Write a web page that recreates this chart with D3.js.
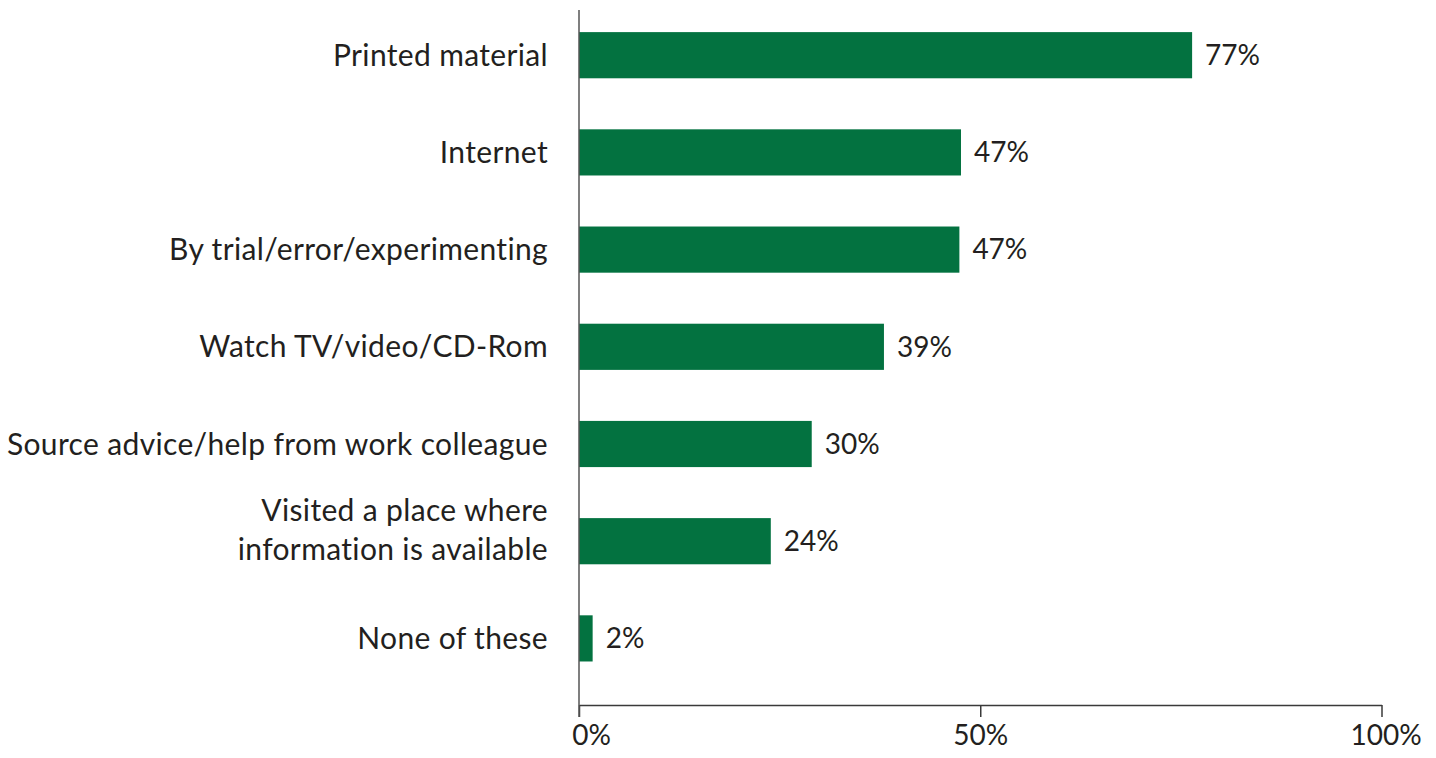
<!DOCTYPE html>
<html><head><meta charset="utf-8">
<script src="https://cdn.jsdelivr.net/npm/d3@7"></script>
<style>
html,body{margin:0;padding:0;background:#fff;}
text{font-family:Lato, "Open Sans", sans-serif;fill:#231f20;}
</style></head>
<body>
<svg id="chart" width="1436" height="758"></svg>
<script>
const categories = [
  ["Printed material"],
  ["Internet"],
  ["By trial/error/experimenting"],
  ["Watch TV/video/CD-Rom"],
  ["Source advice/help from work colleague"],
  ["Visited a place where", "information is available"],
  ["None of these"]
];
const values = [76.4, 47.6, 47.4, 38.0, 29.0, 23.9, 1.7];
const valueLabels = ["77%", "47%", "47%", "39%", "30%", "24%", "2%"];
const tickValues = [0, 50, 100];
const tickLabels = ["0%", "50%", "100%"];

const svg = d3.select("#chart");
const x0 = 579, x1 = 1381.5, axisY = 705;
const fs = 28;

const x = d3.scaleLinear().domain([0, 100]).range([x0, x1]);
const y = d3.scaleBand().domain(d3.range(categories.length))
  .range([6.6, 687]).paddingInner(0.525).paddingOuter(0.2625);

// bars
svg.append("g").selectAll("rect").data(values).join("rect")
  .attr("x", x(0)).attr("y", (d, i) => y(i))
  .attr("width", d => x(d) - x(0)).attr("height", y.bandwidth())
  .attr("fill", "#037240");

// value labels
svg.append("g").selectAll("text").data(values).join("text")
  .attr("x", d => x(d) + 13)
  .attr("y", (d, i) => y(i) + y.bandwidth() / 2)
  .attr("dy", "0.35em")
  .style("font-size", fs + "px")
  .text((d, i) => valueLabels[i]);

// category labels
const cl = svg.append("g").selectAll("text").data(categories).join("text")
  .attr("text-anchor", "end")
  .style("font-size", "30px")
  .style("letter-spacing", "0.35px")
  .attr("transform", (d, i) => `translate(548,${y(i) + y.bandwidth() / 2})`);
cl.each(function(lines) {
  const t = d3.select(this);
  const n = lines.length;
  lines.forEach((ln, j) => {
    t.append("tspan").attr("x", 0)
      .attr("y", n === 1 ? 0 : (j === 0 ? -31 : 8))
      .attr("dy", "0.35em").text(ln);
  });
});

// x axis
const xAxis = d3.axisBottom(x).tickValues(tickValues)
  .tickFormat((d, i) => tickLabels[i]).tickSize(12).tickSizeOuter(0);
const gx = svg.append("g").attr("transform", `translate(0,${axisY})`).call(xAxis);
gx.select(".domain").attr("stroke", "#3a3a3a").attr("stroke-width", 1.5);
gx.selectAll(".tick line").attr("stroke", "#3a3a3a").attr("stroke-width", 1.5);
gx.selectAll(".tick text").style("font-size", fs + "px")
  .attr("fill", "#231f20").attr("y", 20).attr("dy", "0.71em")
  .style("font-family", "Lato, 'Open Sans', sans-serif");
gx.selectAll(".tick text").filter(d => d === 0).attr("dx", 12);
gx.selectAll(".tick text").filter(d => d === 100).attr("dx", 4);

// y axis line
svg.append("line").attr("x1", x0).attr("x2", x0).attr("y1", 10).attr("y2", axisY + 12)
  .attr("stroke", "#555").attr("stroke-width", 1.5);
</script>
</body></html>
